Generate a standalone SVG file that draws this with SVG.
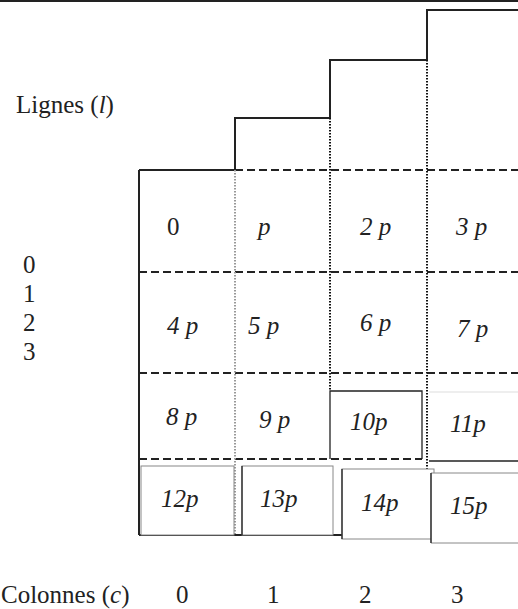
<svg xmlns="http://www.w3.org/2000/svg" width="518" height="609" viewBox="0 0 518 609">
<style>
text{font-family:"Liberation Serif","Times New Roman",serif;font-size:25px;fill:#222}
.it{font-style:italic}
.solid{stroke:#222;stroke-width:2;fill:none}
.dash{stroke:#222;stroke-width:2;stroke-dasharray:8 4;fill:none}
.dot{stroke:#111;stroke-width:2;stroke-dasharray:1.5 1.5;fill:none}
.dotg{stroke:#999;stroke-width:2;stroke-dasharray:1.5 1.5;fill:none}
.box{fill:#fff;stroke:#888;stroke-width:1}
.edge{stroke:#222;stroke-width:1.3;fill:none}
</style>
<rect width="518" height="609" fill="#fff"/>
<g id="connectors">
<line x1="0" y1="1" x2="518" y2="1" class="solid"/>
<path d="M139,170 H235 V118 H330 V60 H427 V10 H518" class="solid"/>
<line x1="139" y1="170" x2="139" y2="535" class="solid"/>
<line x1="235" y1="170" x2="518" y2="170" class="dash"/>
<line x1="139" y1="272" x2="518" y2="272" class="dash"/>
<line x1="139" y1="373" x2="518" y2="373" class="dash"/>
<line x1="139" y1="459" x2="422" y2="459" class="dash"/>
<line x1="235" y1="170" x2="235" y2="535" class="dotg"/>
<line x1="330" y1="118" x2="330" y2="391" class="dot"/>
<line x1="427" y1="60" x2="427" y2="470" class="dot"/>
<line x1="139" y1="535" x2="342" y2="535" class="solid"/>
</g>
<g id="cell-0"><text x="167" y="235">0</text></g>
<g id="cell-p"><text x="258" y="235" class="it">p</text></g>
<g id="cell-2p"><text x="360" y="235" class="it">2 p</text></g>
<g id="cell-3p"><text x="456" y="235" class="it">3 p</text></g>
<g id="cell-4p"><text x="167" y="334" class="it">4 p</text></g>
<g id="cell-5p"><text x="248" y="334" class="it">5 p</text></g>
<g id="cell-6p"><text x="360" y="331" class="it">6 p</text></g>
<g id="cell-7p"><text x="457" y="337" class="it">7 p</text></g>
<g id="cell-8p"><text x="166" y="425" class="it">8 p</text></g>
<g id="cell-9p"><text x="259" y="428" class="it">9 p</text></g>
<g id="cell-10p">
<path d="M330,459 V391 H422 V459" class="edge"/>
<text x="350" y="430" class="it">10p</text>
</g>
<g id="cell-11p">
<line x1="429" y1="392" x2="518" y2="392" stroke="#ddd" stroke-width="1"/>
<line x1="429" y1="461" x2="518" y2="461" class="edge"/>
<text x="450" y="432" class="it">11p</text>
</g>
<g id="cell-12p">
<rect x="141" y="466" width="93" height="69" class="box" stroke="#bbb"/>
<text x="161" y="507" class="it">12p</text>
</g>
<g id="cell-13p">
<rect x="242" y="466" width="91" height="69" class="box"/>
<line x1="242" y1="466" x2="242" y2="535" class="edge"/>
<text x="260" y="507" class="it">13p</text>
</g>
<g id="cell-14p">
<rect x="342" y="469" width="92" height="70" class="box"/>
<line x1="342" y1="469" x2="342" y2="539" class="edge"/>
<text x="361" y="511" class="it">14p</text>
</g>
<g id="cell-15p">
<path d="M518,473 H431 V543 H518" class="box"/>
<line x1="431" y1="473" x2="431" y2="543" class="edge"/>
<text x="450" y="514" class="it">15p</text>
</g>
<g id="axis-lignes">
<text x="16" y="113">Lignes (<tspan class="it">l</tspan>)</text>
<text x="23" y="273">0</text>
<text x="23" y="302">1</text>
<text x="23" y="331">2</text>
<text x="23" y="360">3</text>
</g>
<g id="axis-colonnes">
<text x="1" y="603" font-size="24">Colonnes (<tspan class="it">c</tspan>)</text>
<text x="176" y="603">0</text>
<text x="267" y="603">1</text>
<text x="359" y="603">2</text>
<text x="451" y="603">3</text>
</g>
</svg>
